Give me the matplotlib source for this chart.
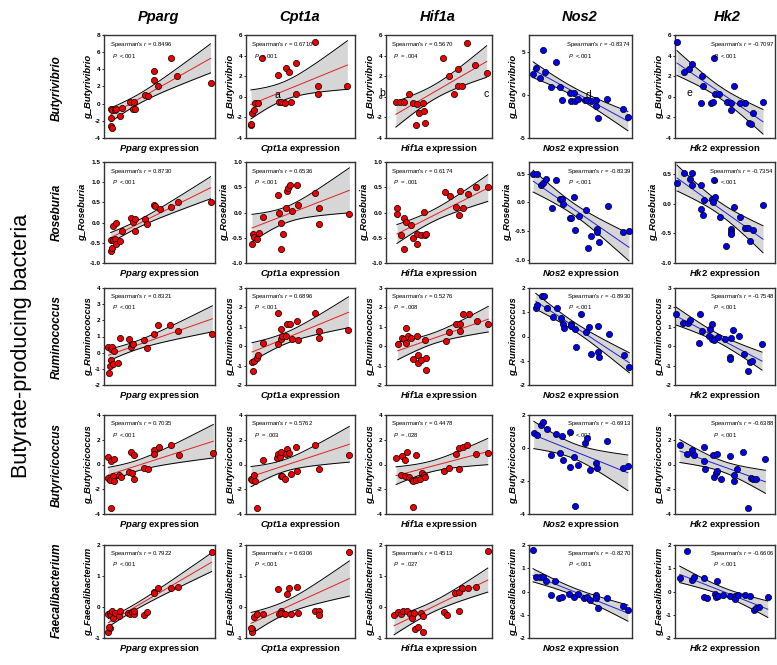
import numpy as np
import matplotlib
matplotlib.use('Agg')
import matplotlib.pyplot as plt

plt.rcParams['font.family'] = 'Liberation Sans'
plt.rcParams['mathtext.fontset'] = 'custom'
plt.rcParams['mathtext.it'] = 'Liberation Sans:italic:bold'
plt.rcParams['mathtext.sf'] = 'Liberation Sans:italic'
plt.rcParams['mathtext.rm'] = 'Liberation Sans:bold'

genes = ['Pparg', 'Cpt1a', 'Hif1a', 'Nos2', 'Hk2']
bacteria = ['Butyrivibrio', 'Roseburia', 'Ruminococcus', 'Butyricicoccus', 'Faecalibacterium']

# ---- Butyrivibrio ----
bv_pparg_x = [6, 7.5, 10, 11, 6.6, 6, 7, 14, 16, 23, 26, 27, 28, 37, 40, 45, 45, 49, 60, 66, 96]
bv_pparg_y = [-0.6, -0.7, -0.7, -0.6, -1.7, -2.6, -2.8, -1.4, -0.5, 0.2, -0.6, 0.2, -0.6, 1.0, 0.95, 3.8, 2.75, 2.1, 5.35, 3.2, 2.4]
bv_cpt1a_x = [4.5, 4.8, 5.2, 7, 8.5, 10.6, 15, 29, 30, 32, 35.5, 37, 39, 41, 45.5, 46, 63, 66, 66, 93]
bv_cpt1a_y = [-2.7, -2.6, -1.55, -1.3, -0.65, -0.65, 3.8, 2.1, -0.5, -0.5, -0.6, 2.75, 2.4, -0.5, 3.25, 0.25, 5.3, 1.05, 0.25, 1.05]
bv_hif1a_x = [9.3, 13, 17, 21.5, 25, 29, 31, 28, 34.6, 35.5, 36.4, 54, 59, 64.5, 68, 68, 72, 76.6, 84, 95]
bv_hif1a_y = [-0.55, -0.55, -0.47, 0.25, -0.6, -0.67, -1.6, -2.7, -0.57, -1.4, -2.55, 3.75, 2.05, 0.25, 2.7, 1.0, 1.0, 5.2, 3.1, 2.35]
bv_nos2_x = [4, 6.5, 11, 13.5, 16, 21.6, 26, 30, 32, 40, 40.5, 43.5, 44.5, 48, 54, 56.5, 60, 65, 65, 67, 76, 91, 96]
bv_nos2_y = [2.4, 3.2, 2.0, 5.3, 2.7, 1.0, 3.8, 1.0, -0.6, 0.3, -0.65, 0.2, -0.7, -0.5, -0.6, -0.6, -0.65, -0.6, -1.3, -2.65, -0.5, -1.6, -2.6]
bv_hk2_x = [2, 9, 14, 17, 25.6, 26.6, 28, 36, 37.7, 38.7, 39.7, 44, 52, 56, 56, 59, 65, 70, 74, 76, 78, 88]
bv_hk2_y = [5.3, 2.4, 2.7, 3.2, -0.6, 2.05, 1.05, -0.6, -0.5, 3.75, 0.25, 0.25, -0.55, -0.6, -1.3, 1.0, -0.6, -0.65, -2.55, -2.65, -1.55, -0.55]

# ---- Roseburia ----
rb_pparg_x = [6, 7, 6, 8, 10, 10.4, 8.4, 10.4, 14.3, 16.4, 24, 26, 27.5, 28, 37, 39, 45, 46, 50, 60, 66.5, 96]
rb_pparg_y = [-0.7, -0.62, -0.42, -0.42, -0.4, -0.52, -0.08, -0.02, -0.46, -0.2, 0.12, 0.02, -0.22, 0.08, 0.08, -0.04, 0.44, 0.4, 0.34, 0.38, 0.5, 0.52]
rb_cpt1a_x = [5.5, 6, 7.6, 9.7, 11.5, 16, 29.7, 30.3, 31.8, 32.4, 34, 36.4, 37.9, 38.8, 40.3, 41.8, 47, 47.6, 63.6, 67.3, 67.3, 94.8]
rb_cpt1a_y = [-0.62, -0.43, -0.49, -0.52, -0.41, -0.09, 0.35, -0.01, -0.73, -0.2, -0.43, 0.09, 0.42, 0.49, 0.54, 0.03, 0.54, 0.14, 0.39, 0.09, -0.22, -0.03]
rb_hif1a_x = [10.3, 10.3, 14, 16.8, 18.7, 23.4, 16.8, 25, 29, 29.6, 32.7, 35.5, 36.4, 37.4, 56, 60, 66, 69, 70, 73, 77.6, 85, 96]
rb_hif1a_y = [0.08, -0.03, -0.44, -0.1, -0.19, -0.24, -0.72, -0.51, -0.63, -0.42, -0.45, 0.01, -0.45, -0.42, 0.4, 0.33, 0.11, -0.05, 0.43, 0.08, 0.37, 0.51, 0.51]
rb_nos2_x = [4, 7.4, 11.3, 13.5, 16.8, 22.6, 26.5, 29.7, 32.3, 33, 39.7, 41, 44, 45, 49, 55, 57, 60, 66, 66, 67.7, 76.8, 91, 97]
rb_nos2_y = [0.5, 0.5, 0.3, 0.34, 0.41, -0.09, 0.38, 0.06, 0.06, -0.02, -0.27, -0.27, 0.1, -0.47, -0.24, -0.13, -0.79, -0.58, -0.46, -0.51, -0.69, -0.06, -0.51, -0.49]
rb_hk2_x = [2, 9, 15, 16.7, 17.4, 26, 25.6, 28, 29, 37, 38.7, 39.7, 37.7, 44.6, 51, 55.7, 56, 56, 59, 65, 70, 73, 75.4, 78, 88]
rb_hk2_y = [0.35, 0.52, 0.42, 0.51, 0.32, 0.32, -0.09, -0.2, 0.06, 0.08, 0.40, 0.11, 0.02, -0.23, -0.71, -0.42, -0.48, -0.52, -0.05, -0.23, -0.41, -0.41, -0.63, -0.45, -0.02]

# ---- Ruminococcus ----
rc_pparg_x = [3.9, 4.5, 5, 6, 6, 7.5, 8, 9, 12.5, 14.3, 22.4, 24.5, 24.8, 26.3, 35.8, 38.8, 44.8, 49, 59.7, 66.6, 97.6]
rc_pparg_y = [0.37, -1.28, -0.82, -0.47, 0.2, 0.35, -0.71, 0.1, -0.63, 0.92, 0.82, 0.35, 0.51, 0.51, 0.76, 0.31, 1.18, 1.7, 1.7, 1.33, 1.18]
rc_cpt1a_x = [5.5, 6.7, 7.6, 9.7, 11.2, 16, 29.7, 29.7, 31.8, 32.4, 33.3, 36.4, 37.9, 40, 41.8, 46.4, 47.6, 63.6, 66.7, 66.7, 94]
rc_cpt1a_y = [-0.84, -1.27, -0.75, -0.62, -0.44, 0.19, 1.69, 0.1, 0.9, 0.39, 0.53, 0.53, 1.16, 1.16, 0.36, 1.3, 0.31, 1.69, 0.79, 0.44, 0.82]
rc_hif1a_x = [11, 14.7, 17, 19.3, 20.3, 19.3, 24, 25, 29.6, 30.2, 30.2, 33.4, 36.4, 38, 38, 56.7, 59.8, 66.4, 70, 70, 73, 78.5, 85.7, 96.5]
rc_hif1a_y = [0.1, 0.4, 0.37, 0.92, 0.54, 0.19, 0.42, -0.68, 0.54, -0.47, -0.85, -0.73, 0.33, -0.63, -1.25, 0.28, 0.75, 1.15, 1.15, 0.8, 1.67, 1.67, 1.29, 1.15]
rc_nos2_x = [6.5, 8, 12.3, 15, 17.7, 23.5, 27.4, 31.3, 33, 33.9, 41, 41, 44.5, 46, 50, 55.8, 58, 60.6, 66.8, 66.8, 67.7, 77.7, 92, 97.4]
rc_nos2_y = [1.19, 1.3, 1.69, 1.69, 1.19, 0.81, 1.19, 0.77, 0.53, 0.36, 0.53, 0.43, 0.29, -0.45, 0.91, 0.18, 0.39, -0.73, 0.42, -0.62, -0.84, 0.11, -0.77, -1.26]
rc_hk2_x = [1, 7.5, 12.5, 15, 24, 25, 26.6, 34.4, 35.4, 37, 37, 38.7, 42.6, 50, 55, 55, 55.7, 57.7, 64, 69, 72.5, 74.8, 77, 87]
rc_hk2_y = [1.68, 1.19, 1.19, 1.33, 0.19, 1.68, 0.77, 0.54, 0.89, 1.16, 0.37, 0.32, 0.46, 0.37, -0.56, -0.68, 0.4, 0.84, 0.54, -0.42, -1.26, -0.82, -0.77, 0.1]

# ---- Butyricicoccus ----
bc_pparg_x = [3.8, 6.2, 8.9, 3.8, 5.3, 7.7, 8.9, 5.9, 13.3, 15, 22.5, 24.6, 25.4, 27, 27, 35.8, 39.3, 44.7, 45.3, 49.7, 60, 67.5, 98.5]
bc_pparg_y = [0.64, 0.29, 0.48, -1.09, -1.25, -0.9, -1.36, -3.52, -0.85, -0.99, -0.59, 1.01, -0.72, -1.17, 0.75, -0.32, -0.4, 1.17, 0.83, 1.41, 1.55, 0.77, 0.91]
bc_cpt1a_x = [4.6, 5.5, 7, 8.3, 10, 15.4, 28.6, 29.2, 30.8, 32.3, 31.7, 33.2, 36, 37.5, 37, 39.4, 41.5, 46, 47, 63.7, 66.8, 94.8]
bc_cpt1a_y = [-1.19, -1.27, -0.86, -1.35, -3.49, 0.35, 0.49, 0.81, 0.62, 1.03, -0.95, -0.92, -1.14, 1.22, 0.81, 0.89, -0.73, 1.43, -0.51, 1.57, -0.38, 0.76]
bc_hif1a_x = [9.5, 14.3, 15.2, 18, 18, 20, 22, 24.8, 25.7, 25.7, 28.6, 28.6, 32.4, 34.3, 36.2, 37, 55, 59, 65.7, 68.6, 68.6, 72.4, 76, 84.8, 96]
bc_hif1a_y = [0.49, -0.86, 0.68, 0.4, -0.89, 1.0, -1.03, -1.22, -1.3, -3.43, 0.78, -1.22, -1.14, -0.68, -0.86, -1.03, -0.49, -0.32, 0.86, 1.3, -0.35, 1.43, 1.57, 0.86, 0.89]
bc_nos2_x = [4.6, 7.8, 11.4, 13.7, 17, 21.8, 26, 30, 32.2, 33.2, 39.7, 39.7, 43.6, 44.6, 47.9, 54.4, 56.7, 59.3, 65, 66.4, 76.2, 91, 96]
bc_nos2_y = [0.88, 0.78, 1.42, 1.58, 1.18, -0.43, 0.84, -0.33, 0.74, -0.7, 0.98, -1.18, -0.54, -3.5, -1.01, 0.31, 0.62, -1.35, -0.88, -1.24, 0.43, -1.21, -1.1]
bc_hk2_x = [4.8, 11.9, 17.3, 19.2, 28.8, 28.8, 30.4, 38, 39, 40.7, 41.7, 42.3, 46, 54.5, 59, 59, 62, 68, 72.8, 76, 78.2, 80.8, 90.4]
bc_hk2_y = [1.55, 0.88, 1.2, 0.8, 1.41, 0.32, -0.35, 0.75, -1.01, -0.67, 0.85, -0.53, -1.2, 0.67, -0.85, -1.33, -0.4, 1.01, -3.52, -1.07, -1.2, -1.2, 0.48]

# ---- Faecalibacterium ----
fb_pparg_x = [3.8, 5.3, 6.2, 3.8, 5.3, 4.7, 7.4, 8.3, 9.8, 13.3, 14.8, 21.6, 23.7, 25, 27, 27, 36.4, 38.8, 44.7, 45.3, 48.8, 60, 66.6, 97]
fb_pparg_y = [-0.22, -0.2, -0.25, -0.8, -0.69, -0.66, -0.12, -0.34, -0.2, -0.29, -0.12, -0.18, -0.22, -0.15, -0.22, -0.12, -0.25, -0.15, 0.49, 0.44, 0.61, 0.61, 0.64, 1.78]
fb_cpt1a_x = [5.2, 5.5, 4.6, 7.7, 10, 15.4, 29.2, 30, 31.7, 32.3, 37.8, 39.4, 36, 41.5, 46.8, 47.7, 63.7, 67, 67, 94.8]
fb_cpt1a_y = [-0.7, -0.82, -0.69, -0.31, -0.22, -0.22, 0.59, -0.22, -0.12, -0.2, 0.43, 0.62, -0.22, -0.22, 0.63, -0.18, -0.12, -0.12, -0.27, 1.78]
fb_hif1a_x = [7.6, 11.4, 14.3, 16.2, 20, 22.9, 24.8, 26.7, 27.6, 30.5, 33.3, 35.2, 35.2, 54.3, 58, 64.8, 68.6, 68.6, 71.4, 77, 84.8, 96]
fb_hif1a_y = [-0.25, -0.17, -0.22, -0.13, -0.13, -0.22, -0.37, -0.18, -0.71, -0.66, -0.2, -0.28, -0.8, -0.16, -0.26, 0.44, 0.48, -0.13, 0.6, 0.62, 0.63, 1.8]
fb_nos2_x = [3.9, 6.5, 10.4, 13.7, 16.3, 21.8, 25.7, 29.3, 32.2, 39, 43.6, 47.9, 53.4, 56, 59.3, 64.8, 64.8, 66.8, 75.6, 91, 96]
fb_nos2_y = [1.77, 0.64, 0.62, 0.62, 0.47, -0.13, 0.45, -0.26, -0.22, -0.1, -0.22, -0.1, -0.26, -0.22, -0.35, -0.13, -0.29, -0.7, -0.26, -0.64, -0.81]
fb_hk2_x = [4.6, 12, 17, 19.2, 29.3, 29.3, 31.6, 39.7, 40.7, 42.3, 43, 47.9, 55.4, 60, 60.3, 63.2, 70, 75, 78.8, 81, 83.7, 92.8]
fb_hk2_y = [0.6, 1.76, 0.48, 0.63, 0.6, -0.25, -0.28, -0.09, -0.25, 0.44, -0.21, -0.13, -0.21, -0.21, -0.31, -0.13, -0.13, -0.21, -0.8, -0.71, -0.68, -0.25]

panel_data = [
    [(bv_pparg_x, bv_pparg_y), (bv_cpt1a_x, bv_cpt1a_y), (bv_hif1a_x, bv_hif1a_y), (bv_nos2_x, bv_nos2_y), (bv_hk2_x, bv_hk2_y)],
    [(rb_pparg_x, rb_pparg_y), (rb_cpt1a_x, rb_cpt1a_y), (rb_hif1a_x, rb_hif1a_y), (rb_nos2_x, rb_nos2_y), (rb_hk2_x, rb_hk2_y)],
    [(rc_pparg_x, rc_pparg_y), (rc_cpt1a_x, rc_cpt1a_y), (rc_hif1a_x, rc_hif1a_y), (rc_nos2_x, rc_nos2_y), (rc_hk2_x, rc_hk2_y)],
    [(bc_pparg_x, bc_pparg_y), (bc_cpt1a_x, bc_cpt1a_y), (bc_hif1a_x, bc_hif1a_y), (bc_nos2_x, bc_nos2_y), (bc_hk2_x, bc_hk2_y)],
    [(fb_pparg_x, fb_pparg_y), (fb_cpt1a_x, fb_cpt1a_y), (fb_hif1a_x, fb_hif1a_y), (fb_nos2_x, fb_nos2_y), (fb_hk2_x, fb_hk2_y)],
]

spearman_r = [
    ['0.8496', '0.6710', '0.5670', '-0.8374', '-0.7097'],
    ['0.8730', '0.6536', '0.6174', '-0.8339', '-0.7354'],
    ['0.8321', '0.6896', '0.5276', '-0.8930', '-0.7548'],
    ['0.7035', '0.5762', '0.4478', '-0.6913', '-0.6388'],
    ['0.7922', '0.6306', '0.4513', '-0.8270', '-0.6606'],
]
p_text = [
    ['<.001', '<.001', '= .004', '<.001', '<.001'],
    ['<.001', '<.001', '= .001', '<.001', '<.001'],
    ['<.001', '<.001', '= .008', '<.001', '<.001'],
    ['<.001', '= .003', '= .028', '<.001', '<.001'],
    ['<.001', '<.001', '= .027', '<.001', '<.001'],
]

# y-axis limits and tick step per panel
y_axes = [
    [(-4, 8, 2), (-4, 6, 2), (-4, 6, 2), (-5, 7, 5), (-4, 6, 2)],
    [(-1, 1.5, 0.5), (-1, 1, 0.5), (-1, 1, 0.5), (-1.05, 0.7, 0.5), (-1.0, 0.7, 0.5)],
    [(-2, 4, 1), (-2, 3, 1), (-2, 3, 1), (-2, 2, 1), (-2, 3, 1)],
    [(-4, 4, 2), (-4, 4, 2), (-4, 4, 2), (-4, 2, 2), (-4, 4, 2)],
    [(-1, 2, 1), (-1, 2, 1), (-1, 2, 1), (-2, 2, 1), (-2, 2, 1)],
]

W, H = 777, 665
fig = plt.figure(figsize=(W / 100, H / 100), dpi=100)

col_left = [104, 246, 386, 529, 675]
col_w = [111, 109, 106, 103, 100]
row_top = [35, 162, 288, 415, 545]
row_h = [103, 101, 97, 99, 93]

T_CRIT = 2.08

for i, bac in enumerate(bacteria):
    for j, gene in enumerate(genes):
        ax = fig.add_axes([col_left[j] / W, 1 - (row_top[i] + row_h[i]) / H,
                           col_w[j] / W, row_h[i] / H])
        x = np.array(panel_data[i][j][0], dtype=float)
        y = np.array(panel_data[i][j][1], dtype=float)
        negative = spearman_r[i][j].startswith('-')
        dot = '#0000EE' if negative else '#EE0000'

        # linear fit with 95% confidence band
        n = len(x)
        slope, icpt = np.polyfit(x, y, 1)
        xs = np.linspace(x.min(), x.max(), 100)
        fit = slope * xs + icpt
        resid = y - (slope * x + icpt)
        s = np.sqrt(np.sum(resid ** 2) / (n - 2))
        se = s * np.sqrt(1 / n + (xs - x.mean()) ** 2 / np.sum((x - x.mean()) ** 2))
        lo, hi = fit - T_CRIT * se, fit + T_CRIT * se
        ax.fill_between(xs, lo, hi, color='#d6d6d6', lw=0, zorder=1)
        ax.plot(xs, lo, color='black', lw=0.7, zorder=2)
        ax.plot(xs, hi, color='black', lw=0.7, zorder=2)
        ax.plot(xs, fit, color=('#2020d0' if negative else '#e02020'), lw=0.7, zorder=2)
        ax.scatter(x, y, s=20, c=dot, edgecolors='black', linewidths=0.5, zorder=3, clip_on=False)

        ymin, ymax, step = y_axes[i][j]
        ax.set_xlim(0, 100)
        ax.set_ylim(ymin, ymax)
        ticks = np.arange(np.ceil(ymin / step) * step, ymax + 1e-9, step)
        fmt = '%.1f' if i == 1 else '%g'
        ax.set_yticks(ticks)
        ax.set_yticklabels([fmt % t for t in ticks], fontsize=4.6, fontweight='bold')
        ax.set_xticks([])
        ax.tick_params(axis='y', length=1.5, width=0.6, pad=1)
        for sp in ax.spines.values():
            sp.set_color('#333333')
            sp.set_linewidth(1.0)

        ax.set_ylabel('g_' + bac, fontsize=6.8, fontweight='bold', style='italic', labelpad=1.5)
        ax.set_xlabel('$\\it{' + gene + '}$ expression', fontsize=6.8, fontweight='bold', labelpad=3)

        line1 = "Spearman's $\\mathsf{r}$ = " + spearman_r[i][j]
        line2 = "$\\mathsf{P}$  " + p_text[i][j]
        if negative:
            ax.text(0.99, 0.91, line1, transform=ax.transAxes, fontsize=4.3, ha='right', va='center')
            ax.text(0.38, 0.80, line2, transform=ax.transAxes, fontsize=4.3, ha='left', va='center')
        else:
            ax.text(0.05, 0.91, line1, transform=ax.transAxes, fontsize=4.3, ha='left', va='center')
            ax.text(0.07, 0.80, line2, transform=ax.transAxes, fontsize=4.3, ha='left', va='center')

# column titles
col_center = [158, 300, 438, 580, 727]
for j, gene in enumerate(genes):
    fig.text(col_center[j] / W, 1 - 17 / H, gene, fontsize=10.5, fontweight='bold',
             style='italic', ha='center', va='center')

# row labels
row_center = [88, 212, 337, 465, 590]
for i, bac in enumerate(bacteria):
    fig.text(57 / W, 1 - row_center[i] / H, bac, fontsize=8.5, fontweight='bold',
             style='italic', rotation=90, ha='center', va='center')

fig.text(22 / W, 1 - 346 / H, 'Butyrate-producing bacteria', fontsize=15.5,
         rotation=90, ha='center', va='center')

# stray panel letters in the first row
for lab, px, py in [('a', 277, 95), ('b', 382, 93), ('c', 486, 94), ('d', 588, 95), ('e', 689, 93)]:
    fig.text(px / W, 1 - py / H, lab, fontsize=7.5, ha='center', va='center')

fig.savefig('out.png', dpi=100)
